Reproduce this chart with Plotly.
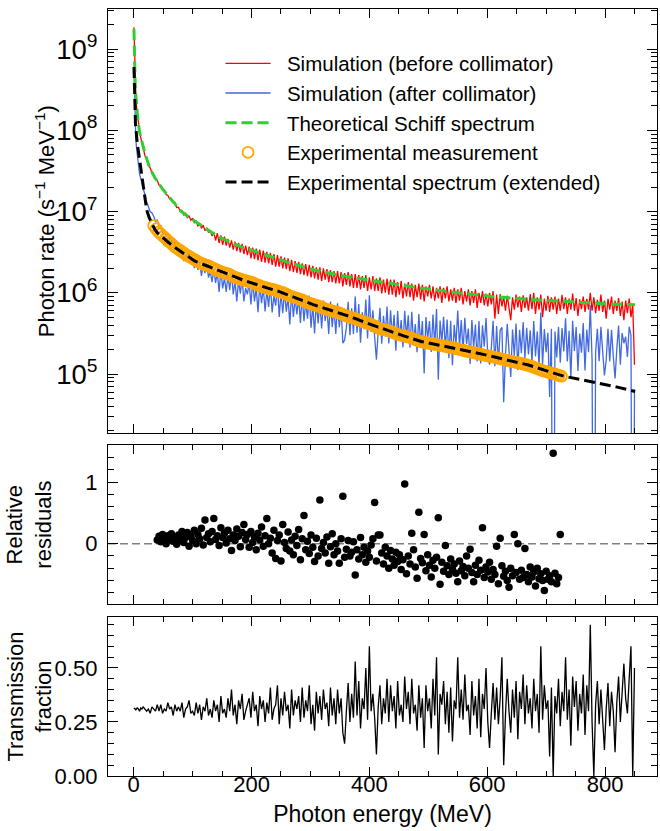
import numpy as np
import plotly.graph_objects as go

# ---------------- data ----------------
E_sim = np.concatenate([[0.5, 1.5, 2.5, 3.5, 4.5, 6, 8, 10, 12, 14],
                        np.arange(16, 848, 3), [850]])

rate_before = np.array([
    1.85e9, 6.5e8, 3.7e8, 2.75e8, 2.05e8, 1.6e8, 1.17e8, 9.6e7, 8.1e7, 7.1e7,
    # 16 .. 43
    6.1e7, 4.9e7, 4.4e7, 3.7e7, 3.45e7, 3.0e7, 2.82e7, 2.5e7, 2.4e7, 2.12e7,
    # 46 .. 73
    2.06e7, 1.86e7, 1.8e7, 1.62e7, 1.58e7, 1.43e7, 1.42e7, 1.28e7, 1.29e7, 1.12e7,
    # 76 .. 103
    1.13e7, 1.0e7, 1.02e7, 9.1e6, 9.5e6, 8.4e6, 8.8e6, 7.8e6, 8.3e6, 7.2e6,
    # 106 .. 133
    7.7e6, 6.6e6, 7.2e6, 6.2e6, 6.8e6, 5.8e6, 6.3e6, 5.5e6, 5.9e6, 5.0e6,
    # 136 .. 163
    5.6e6, 4.4e6, 5.4e6, 4.1e6, 5.1e6, 3.9e6, 4.9e6, 3.8e6, 4.6e6, 3.6e6,
    # 166 .. 193
    4.4e6, 3.4e6, 4.25e6, 3.25e6, 4.1e6, 3.15e6, 4.0e6, 3.0e6, 3.8e6, 2.9e6,
    # 196 .. 223
    3.7e6, 2.65e6, 3.6e6, 2.6e6, 3.5e6, 2.5e6, 3.4e6, 2.4e6, 3.3e6, 2.35e6,
    # 226 .. 253
    3.2e6, 2.3e6, 3.1e6, 2.2e6, 3.0e6, 2.1e6, 2.9e6, 2.1e6, 2.8e6, 2.0e6,
    # 256 .. 283
    2.7e6, 1.95e6, 2.65e6, 1.85e6, 2.55e6, 1.8e6, 2.45e6, 1.75e6, 2.4e6, 1.7e6,
    # 286 .. 313
    2.3e6, 1.65e6, 2.25e6, 1.6e6, 2.2e6, 1.55e6, 2.15e6, 1.5e6, 2.05e6, 1.45e6,
    # 316 .. 343
    2.05e6, 1.4e6, 2.0e6, 1.45e6, 1.95e6, 1.35e6, 1.9e6, 1.35e6, 1.85e6, 1.3e6,
    # 346 .. 373
    1.85e6, 1.3e6, 1.8e6, 1.2e6, 1.75e6, 1.25e6, 1.8e6, 1.2e6, 1.7e6, 1.15e6,
    # 376 .. 403
    1.7e6, 1.15e6, 1.65e6, 1.1e6, 1.6e6, 1.15e6, 1.65e6, 1.05e6, 1.55e6, 1.1e6,
    # 406 .. 433
    1.6e6, 1.05e6, 1.5e6, 1.05e6, 1.55e6, 9.8e5, 1.45e6, 1.0e6, 1.5e6, 9.5e5,
    # 436 .. 463
    1.45e6, 9.5e5, 1.45e6, 8.8e5, 1.35e6, 9.5e5, 1.4e6, 8.5e5, 1.3e6, 9.0e5,
    # 466 .. 493
    1.35e6, 8.8e5, 1.3e6, 8.0e5, 1.25e6, 8.8e5, 1.3e6, 8.3e5, 1.25e6, 7.8e5,
    # 496 .. 523
    1.2e6, 9.0e5, 1.25e6, 8.5e5, 1.2e6, 8.0e5, 1.15e6, 8.5e5, 1.2e6, 7.5e5,
    # 526 .. 553
    1.15e6, 8.5e5, 1.2e6, 7.8e5, 1.1e6, 8.0e5, 1.15e6, 7.5e5, 1.1e6, 8.0e5,
    # 556 .. 583
    1.15e6, 7.2e5, 1.05e6, 7.8e5, 1.1e6, 7.0e5, 1.05e6, 7.5e5, 1.1e6, 6.5e5,
    # 586 .. 613
    1.0e6, 7.5e5, 1.05e6, 7.0e5, 9.8e5, 6.8e5, 1.0e6, 7.2e5, 1.05e6, 4.8e5,
    # 616 .. 643
    9.5e5, 5.5e5, 9.6e5, 6.8e5, 9.0e5, 6.0e5, 9.2e5, 6.5e5, 4.6e5, 8.8e5,
    # 646 .. 673
    6.2e5, 9.5e5, 6.6e5, 9.0e5, 5.8e5, 9.3e5, 6.5e5, 8.8e5, 6.0e5, 9.6e5,
    # 676 .. 703
    6.3e5, 1.0e6, 5.5e5, 8.8e5, 6.2e5, 9.5e5, 5.0e5, 8.5e5, 6.0e5, 9.2e5,
    # 706 .. 733
    5.8e5, 8.8e5, 6.2e5, 9.0e5, 5.5e5, 8.5e5, 6.0e5, 9.4e5, 6.3e5, 8.8e5,
    # 736 .. 763
    5.5e5, 8.5e5, 6.2e5, 9.8e5, 6.0e5, 8.6e5, 5.2e5, 8.3e5, 6.3e5, 9.0e5,
    # 766 .. 793
    5.8e5, 8.4e5, 6.2e5, 1.0e6, 6.0e5, 8.8e5, 5.6e5, 8.2e5, 6.0e5, 9.5e5,
    # 796 .. 823
    5.8e5, 8.0e5, 4.8e5, 8.4e5, 6.2e5, 9.0e5, 5.5e5, 8.0e5, 6.0e5, 8.6e5,
    # 826 .. 847, 850
    5.2e5, 7.8e5, 4.6e5, 8.0e5, 5.6e5, 8.5e5, 5.0e5, 7.2e5, 1.3e5,
])

transmission = np.array([
    0.31, 0.315, 0.31, 0.305, 0.31, 0.315, 0.31, 0.30, 0.315, 0.31,
    # 16 .. 43
    0.32, 0.31, 0.30, 0.31, 0.29, 0.32, 0.31, 0.30, 0.33, 0.30,
    # 46 .. 73
    0.33, 0.29, 0.31, 0.30, 0.34, 0.31, 0.32, 0.28, 0.33, 0.30,
    # 76 .. 103
    0.32, 0.30, 0.34, 0.27, 0.31, 0.32, 0.35, 0.29, 0.30, 0.28,
    # 106 .. 133
    0.34, 0.29, 0.33, 0.26, 0.32, 0.30, 0.36, 0.28, 0.31, 0.27,
    # 136 .. 163
    0.35, 0.30, 0.33, 0.25, 0.37, 0.29, 0.31, 0.27, 0.36, 0.30,
    # 166 .. 193
    0.40, 0.28, 0.33, 0.24, 0.35, 0.31, 0.38, 0.26, 0.30, 0.33,
    # 196 .. 223
    0.36, 0.27, 0.39, 0.30, 0.33, 0.23, 0.37, 0.31, 0.35, 0.25,
    # 226 .. 253
    0.34, 0.29, 0.41, 0.26, 0.31, 0.33, 0.42, 0.24, 0.36, 0.28,
    # 256 .. 283
    0.39, 0.30, 0.33, 0.22, 0.40, 0.28, 0.35, 0.31, 0.37, 0.25,
    # 286 .. 313
    0.41, 0.27, 0.35, 0.30, 0.42, 0.24, 0.33, 0.21, 0.39, 0.29,
    # 316 .. 343
    0.37, 0.26, 0.40, 0.31, 0.34, 0.23, 0.41, 0.28, 0.36, 0.24,
    # 346 .. 373
    0.40, 0.29, 0.36, 0.20, 0.15, 0.30, 0.43, 0.25, 0.38, 0.27,
    # 376 .. 403
    0.53, 0.28, 0.44, 0.22, 0.36, 0.31, 0.50, 0.26, 0.60, 0.30,
    # 406 .. 433
    0.38, 0.27, 0.10, 0.32, 0.42, 0.24, 0.36, 0.29, 0.45, 0.25,
    # 436 .. 463
    0.42, 0.30, 0.37, 0.22, 0.44, 0.28, 0.33, 0.25, 0.46, 0.31,
    # 466 .. 493
    0.39, 0.24, 0.45, 0.29, 0.33, 0.21, 0.42, 0.27, 0.36, 0.13,
    # 496 .. 523
    0.42, 0.30, 0.36, 0.22, 0.45, 0.28, 0.55, 0.10, 0.38, 0.33,
    # 526 .. 553
    0.44, 0.24, 0.39, 0.20, 0.41, 0.16, 0.35, 0.31, 0.55, 0.27,
    # 556 .. 583
    0.40, 0.26, 0.47, 0.30, 0.33, 0.19, 0.44, 0.28, 0.37, 0.22,
    # 586 .. 613
    0.45, 0.18, 0.38, 0.31, 0.50, 0.25, 0.13, 0.29, 0.43, 0.26,
    # 616 .. 643
    0.41, 0.24, 0.36, 0.55, 0.05, 0.28, 0.45, 0.30, 0.20, 0.40,
    # 646 .. 673
    0.27, 0.44, 0.17, 0.39, 0.31, 0.47, 0.24, 0.42, 0.29, 0.36,
    # 676 .. 703
    0.22, 0.45, 0.30, 0.38, 0.20, 0.60, 0.26, 0.42, 0.31, 0.35,
    # 706 .. 733
    0.09, 0.41, 0.00, 0.37, 0.29, 0.45, 0.23, 0.39, 0.30, 0.55,
    # 736 .. 763
    0.26, 0.40, 0.14, 0.46, 0.32, 0.44, 0.21, 0.38, 0.29, 0.47,
    # 766 .. 793
    0.19, 0.42, 0.30, 0.70, 0.25, 0.00, 0.33, 0.44, 0.24, 0.40,
    # 796 .. 823
    0.28, 0.12, 0.31, 0.43, 0.23, 0.39, 0.30, 0.11, 0.34, 0.46,
    # 826 .. 847, 850
    0.25, 0.41, 0.52, 0.36, 0.29, 0.45, 0.60, 0.00, 0.50,
])

rate_after = rate_before * transmission

E_schiff = [0.5, 1, 1.5, 2.5, 3.5, 5, 7, 10, 13.5, 19, 27.6, 36, 50, 64, 81, 95,
            120, 143, 180, 215, 260, 306, 350, 397, 440, 488, 550, 609, 670,
            730, 790, 851]
rate_schiff = [1.75e9, 1.0e9, 6.3e8, 3.8e8, 2.7e8, 1.9e8, 1.36e8, 9.5e7, 7.6e7,
               5.2e7, 3.4e7, 2.6e7, 1.85e7, 1.39e7, 1.0e7, 8.4e6, 6.3e6, 4.9e6,
               3.75e6, 3.07e6, 2.4e6, 1.91e6, 1.64e6, 1.44e6, 1.28e6, 1.14e6,
               1.0e6, 9.0e5, 8.3e5, 7.8e5, 7.4e5, 7.1e5]

E_exp = np.arange(34, 727, 4)
rate_exp = [
    6.7e6, 6.1e6, 5.6e6, 5.3e6, 4.95e6, 4.7e6, 4.35e6, 4.15e6, 3.9e6, 3.65e6,
    3.5e6, 3.35e6, 3.2e6, 3.05e6, 2.9e6, 2.8e6, 2.7e6, 2.58e6, 2.5e6, 2.4e6,
    2.32e6, 2.26e6, 2.2e6, 2.16e6, 2.1e6, 2.02e6, 1.96e6, 1.9e6, 1.84e6, 1.8e6,
    1.76e6, 1.73e6, 1.69e6, 1.63e6, 1.57e6, 1.53e6, 1.5e6, 1.46e6, 1.44e6, 1.41e6,
    1.38e6, 1.36e6, 1.33e6, 1.29e6, 1.25e6, 1.22e6, 1.19e6, 1.17e6, 1.14e6, 1.12e6,
    1.11e6, 1.09e6, 1.07e6, 1.04e6, 1.02e6, 1.0e6, 9.7e5, 9.4e5, 9.1e5, 8.9e5,
    8.7e5, 8.55e5, 8.35e5, 8.15e5, 7.9e5, 7.65e5, 7.45e5, 7.3e5, 7.15e5, 7.0e5,
    6.85e5, 6.7e5, 6.5e5, 6.3e5, 6.15e5, 6.05e5, 5.95e5, 5.85e5, 5.75e5, 5.6e5,
    5.45e5, 5.3e5, 5.15e5, 5.05e5, 4.95e5, 4.85e5, 4.75e5, 4.6e5, 4.5e5, 4.4e5,
    4.3e5, 4.2e5, 4.1e5, 4.0e5, 3.85e5, 3.7e5, 3.6e5, 3.55e5, 3.5e5, 3.45e5,
    3.4e5, 3.3e5, 3.2e5, 3.1e5, 3.05e5, 3.0e5, 2.95e5, 2.9e5, 2.85e5, 2.8e5,
    2.72e5, 2.65e5, 2.58e5, 2.52e5, 2.48e5, 2.45e5, 2.42e5, 2.38e5, 2.35e5, 2.33e5,
    2.3e5, 2.27e5, 2.24e5, 2.22e5, 2.18e5, 2.15e5, 2.12e5, 2.1e5, 2.06e5, 2.03e5,
    2.0e5, 1.97e5, 1.94e5, 1.9e5, 1.87e5, 1.85e5, 1.82e5, 1.8e5, 1.77e5, 1.74e5,
    1.72e5, 1.69e5, 1.67e5, 1.64e5, 1.62e5, 1.6e5, 1.57e5, 1.55e5, 1.52e5, 1.5e5,
    1.47e5, 1.45e5, 1.43e5, 1.41e5, 1.39e5, 1.37e5, 1.35e5, 1.32e5, 1.3e5, 1.28e5,
    1.25e5, 1.22e5, 1.19e5, 1.16e5, 1.13e5, 1.1e5, 1.08e5, 1.06e5, 1.04e5, 1.02e5,
    1.0e5, 9.8e4, 9.6e4, 9.4e4,
]

E_ext = [0.5, 1.5, 3, 6, 10, 14, 18, 22, 26, 30, 35, 40, 50, 60, 70, 84, 104,
         124, 150, 185, 215, 246, 276, 306, 337, 367, 397, 427, 458, 488, 518,
         549, 579, 609, 640, 670, 700, 730, 760, 791, 821, 851]
rate_ext = [6.0e8, 2.2e8, 1.2e8, 7.0e7, 4.2e7, 2.5e7, 1.5e7, 1.05e7, 8.5e6,
            7.3e6, 6.2e6, 5.5e6, 4.7e6, 4.1e6, 3.6e6, 3.07e6, 2.45e6, 2.15e6,
            1.8e6, 1.44e6, 1.22e6, 1.04e6, 8.6e5, 7.1e5, 6.0e5, 5.1e5, 4.2e5,
            3.5e5, 2.95e5, 2.51e5, 2.28e5, 2.06e5, 1.84e5, 1.64e5, 1.45e5,
            1.29e5, 1.1e5, 9.4e4, 8.5e4, 7.7e4, 6.9e4, 6.1e4]

E_res = np.arange(40, 725, 3)
residuals = [
    0.06, 0.12, 0.03, 0.15, 0.09, 0.0, 0.13, 0.07, 0.16, 0.04,
    0.11, -0.01, 0.14, 0.08, 0.2, 0.02, 0.1, 0.18, -0.04, 0.12,
    0.05, 0.22, 0.0, 0.15, 0.08, 0.25, -0.02, 0.385, 0.1, 0.16,
    0.03, 0.2, 0.41, 0.07, 0.13, -0.03, 0.26, 0.1, 0.17, 0.01,
    0.22, 0.08, -0.11, 0.14, 0.05, 0.24, 0.12, -0.05, 0.18, 0.31,
    0.07, 0.15, -0.06, 0.2, 0.02, 0.11, -0.1, 0.17, 0.06, 0.27,
    -0.04, 0.13, 0.41, 0.0, 0.09, -0.15, 0.22, -0.24, 0.05, 0.14,
    -0.28, 0.31, 0.02, -0.08, 0.19, -0.12, 0.06, -0.18, 0.12, -0.03,
    0.23, -0.26, 0.08, 0.46, -0.1, 0.04, -0.16, 0.14, -0.06, -0.29,
    0.09, -0.2, 0.71, -0.08, 0.02, -0.15, 0.11, -0.32, -0.05, 0.16,
    -0.18, 0.0, -0.12, -0.32, 0.08, 0.77, -0.22, -0.09, 0.05, -0.2,
    -0.14, 0.03, -0.51, -0.1, -0.25, 0.1, -0.18, -0.06, -0.3, -0.12,
    -0.22, -0.02, 0.08, 0.67, -0.28, 0.14, 0.14, -0.15, -0.33, -0.06,
    -0.2, -0.4, -0.11, -0.25, -0.35, -0.14, -0.29, -0.18, -0.42, -0.26,
    0.97, -0.49, -0.2, -0.33, 0.17, -0.1, -0.38, -0.56, 0.51, -0.24,
    -0.31, 0.15, -0.44, -0.18, -0.35, -0.54, -0.27, -0.4, -0.22, 0.42,
    -0.66, -0.3, -0.45, -0.03, -0.36, -0.5, -0.25, -0.41, -0.33, -0.48,
    -0.62, -0.28, -0.44, -0.37, -0.52, -0.2, -0.4, -0.09, -0.47, -0.62,
    -0.35, -0.5, -0.27, -0.43, 0.26, -0.55, -0.38, -0.46, -0.3, -0.58,
    -0.42, -0.5, -0.04, -0.65, 0.09, -0.36, -0.53, -0.45, -0.6, -0.71,
    -0.4, -0.52, 0.15, -0.47, 0.0, -0.58, -0.43, -0.55, -0.08, -0.5,
    -0.62, -0.38, -0.54, -0.46, -0.69, -0.4, -0.57, -0.49, -0.6, -0.76,
    -0.45, -0.58, -0.52, -0.62, 1.47, -0.48, -0.65, -0.55, 0.15,
]

assert len(E_sim) == len(rate_before) == len(transmission)
assert len(E_exp) == len(rate_exp)
assert len(E_res) == len(residuals)

# zero counts cannot sit on a log axis: let them fall off the bottom like the original
rate_after_plot = np.where(rate_after > 0, rate_after, 1.0)

# ---------------- figure ----------------
FONT = "Liberation Sans, Arial, Helvetica, sans-serif"
SP = "\u00a0\u00a0"
fig = go.Figure()

fig.add_trace(go.Scatter(x=E_sim, y=rate_before, mode="lines",
                         line=dict(color="#FF0000", width=1.3),
                         name=SP + "Simulation (before collimator)", xaxis="x", yaxis="y"))
fig.add_trace(go.Scatter(x=E_sim, y=rate_after_plot, mode="lines",
                         line=dict(color="#4169E1", width=1.3),
                         name=SP + "Simulation (after collimator)", xaxis="x", yaxis="y"))
fig.add_trace(go.Scatter(x=E_schiff, y=rate_schiff, mode="lines",
                         line=dict(color="#32CD32", width=3, dash="11px,5px"),
                         name=SP + "Theoretical Schiff spectrum", xaxis="x", yaxis="y"))
fig.add_trace(go.Scatter(x=E_exp, y=rate_exp, mode="markers",
                         marker=dict(symbol="circle-open", size=11, color="#FFA500",
                                     line=dict(width=1.8, color="#FFA500")),
                         name=SP + "Experimental measurement", xaxis="x", yaxis="y"))
fig.add_trace(go.Scatter(x=E_ext, y=rate_ext, mode="lines",
                         line=dict(color="black", width=3, dash="11px,5px"),
                         name=SP + "Experimental spectrum (extended)", xaxis="x", yaxis="y"))

fig.add_trace(go.Scatter(x=E_res, y=residuals, mode="markers",
                         marker=dict(symbol="circle", size=7.5, color="black"),
                         showlegend=False, xaxis="x2", yaxis="y2"))
fig.add_trace(go.Scatter(x=E_sim, y=transmission, mode="lines",
                         line=dict(color="black", width=1.3),
                         showlegend=False, xaxis="x3", yaxis="y3"))

fig.add_shape(type="line", xref="x2 domain", yref="y2", x0=0, x1=1, y0=0, y1=0,
              line=dict(color="#808080", width=1.5, dash="8px,4px"), layer="below")

XR = [-43.6, 888.2]
D1, D2, D3 = [0.4468, 1.0], [0.2243, 0.4312], [0.0, 0.2073]
TICKFONT = dict(size=22, color="black")
common_x = dict(range=XR, showline=True, linecolor="black", linewidth=1.3,
                mirror="allticks", ticks="inside", ticklen=9, tickwidth=1.3,
                tickcolor="black", tick0=0, dtick=200, showgrid=False, zeroline=False,
                minor=dict(ticks="inside", ticklen=5, tickwidth=1.2, tickcolor="black",
                           dtick=50, showgrid=False),
                tickfont=TICKFONT)
common_y = dict(showline=True, linecolor="black", linewidth=1.3, mirror="allticks",
                ticks="inside", ticklen=10, tickwidth=1.3, tickcolor="black",
                showgrid=False, zeroline=False, tickfont=TICKFONT,
                ticklabelstandoff=5)

# y-axis titles, aligned in one column like the original
def ytitle(text, dom, xpx):
    return dict(text=text, textangle=-90, xref="paper", yref="paper",
                x=(xpx - 108) / 549.3, y=(dom[0] + dom[1]) / 2,
                xanchor="center", yanchor="middle", showarrow=False,
                font=dict(size=22, color="black"))

fig.update_layout(
    width=660, height=831,
    margin=dict(l=108, r=3, t=9, b=55),
    paper_bgcolor="white", plot_bgcolor="white",
    font=dict(family=FONT, size=21, color="black"),
    showlegend=True,
    legend=dict(x=0.205, y=0.955, xanchor="left", yanchor="top",
                bgcolor="rgba(0,0,0,0)", borderwidth=0,
                font=dict(size=20.5, color="black"), itemwidth=45),
    xaxis=dict(domain=[0, 1], anchor="y", showticklabels=False, **common_x),
    xaxis2=dict(domain=[0, 1], anchor="y2", matches="x", showticklabels=False, **common_x),
    xaxis3=dict(domain=[0, 1], anchor="y3", matches="x", showticklabels=True,
                ticklabelstandoff=-12,
                title=dict(text="Photon energy (MeV)", font=dict(size=23), standoff=10),
                **common_x),
    yaxis=dict(domain=D1, anchor="x", type="log", range=[4.27, 9.493],
               dtick=1, exponentformat="power",
               minor=dict(ticks="inside", ticklen=6, tickwidth=1.2, tickcolor="black",
                          dtick="D1", showgrid=False),
               **common_y),
    yaxis2=dict(domain=D2, anchor="x2", range=[-0.98, 1.60],
                dtick=1, tick0=0,
                minor=dict(ticks="inside", ticklen=6, tickwidth=1.2, tickcolor="black",
                           dtick=0.2, showgrid=False),
                **common_y),
    yaxis3=dict(domain=D3, anchor="x3", range=[0, 0.736],
                dtick=0.25, tick0=0, tickformat=".2f",
                minor=dict(ticks="inside", ticklen=6, tickwidth=1.2, tickcolor="black",
                           dtick=0.05, showgrid=False),
                **common_y),
    annotations=[
        ytitle("Photon rate (s<sup>\u22121</sup> MeV<sup>\u22121</sup>)", D1, 45),
        ytitle("Relative<br>residuals", D2, 29),
        ytitle("Transmission<br>fraction", D3, 29),
    ],
)

fig.write_html("out.html")
